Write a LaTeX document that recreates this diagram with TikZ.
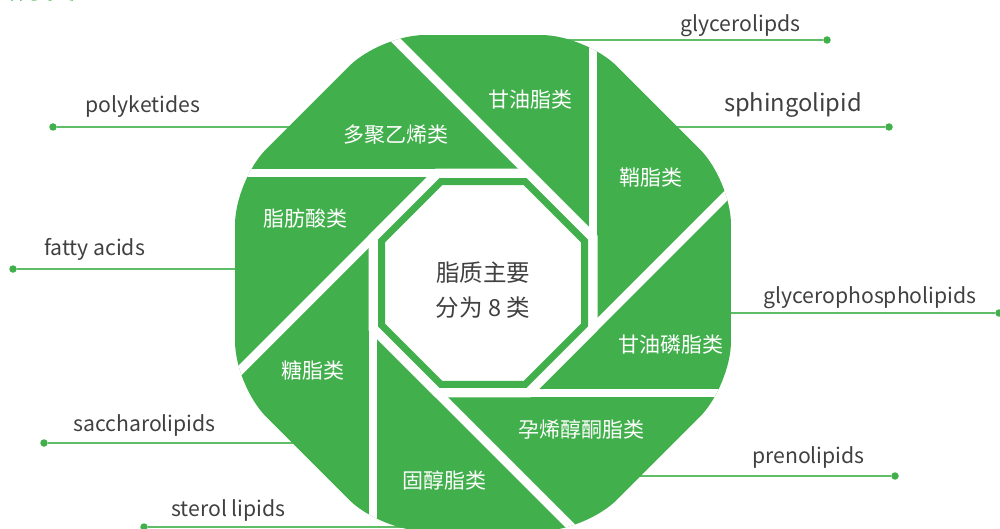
\documentclass[tikz,border=0pt]{standalone}
\usepackage{fontspec}
\setmainfont{Noto Sans CJK SC}
\definecolor{lg}{RGB}{65,175,75}
\definecolor{lgl}{RGB}{95,188,103}
\definecolor{tg}{RGB}{64,64,64}
\def\octpath#1{(22.5:#1) -- (67.5:#1) -- (112.5:#1) -- (157.5:#1) -- (202.5:#1) -- (247.5:#1) -- (292.5:#1) -- (337.5:#1) -- cycle}
\begin{document}
\begin{tikzpicture}[x=1pt,y=-1pt,
  lbl/.style={font=\fontsize{21.2}{25}\selectfont, text=tg, inner sep=0pt, anchor=base},
  lblbig/.style={lbl, font=\fontsize{23.7}{28}\selectfont},
  seg/.style={font=\fontsize{21}{25}\selectfont, text=white, inner sep=0pt},
  dot/.style={circle, fill=lg, minimum size=7.5pt, inner sep=0pt},
  conn/.style={draw=lgl, line width=1.6pt},
  gapline/.style={draw=white, line width=8.8pt},
  ctr/.style={shift={(483,283)}}]
\useasboundingbox (0,0) rectangle (1000,529);
\clip (0,0) rectangle (1000,529);
% partial title at the top left
\node[font=\bfseries\fontsize{30}{34}\selectfont, text=lg, anchor=base east, inner sep=0pt] (title) at (77,-1.5) {脂质分类};
% connectors (drawn behind the shape)
\node[dot] (d1) at (827,40) {};   \coordinate (e1) at (560,40);
\node[dot] (d2) at (889,127) {};  \coordinate (e2) at (660,127);
\node[dot] (d3) at (999,313) {};  \coordinate (e3) at (720,313);
\node[dot] (d4) at (895,476) {};  \coordinate (e4) at (630,476);
\node[dot] (d5) at (53,127) {};   \coordinate (e5) at (300,127);
\node[dot] (d6) at (13,269) {};   \coordinate (e6) at (250,269);
\node[dot] (d7) at (44,443) {};   \coordinate (e7) at (300,443);
\node[dot] (d8) at (144,527) {};  \coordinate (e8) at (430,527);
\foreach \i in {1,...,8} { \draw[conn] (e\i) -- (d\i); }
\node[lbl] (l1) at (740.5,32) {glycerolipds};
\node[lblbig] (l2) at (793,112) {sphingolipid};
\node[lbl] (l3) at (870,303) {glycerophospholipids};
\node[lbl] (l4) at (808.5,463) {prenolipids};
\node[lbl] (l5) at (143,113) {polyketides};
\node[lbl] (l6) at (94.5,255) {fatty acids};
\node[lbl] (l7) at (144.5,431) {saccharolipids};
\node[lbl] (l8) at (228.5,516) {sterol lipids};
% big rounded octagon
\fill[lg, ctr, rounded corners=44pt] \octpath{268.4};
\begin{scope}
  \clip[ctr, rounded corners=44pt] \octpath{268.4};
  \foreach \k in {0,...,7} {
    \draw[gapline, ctr] ({-67.5+45*\k}:119.06) -- ++({-180+45*\k}:420);
  }
\end{scope}
% central octagon
\fill[white, ctr] \octpath{123.93};
\draw[lg, line width=7pt, fill=white, ctr] \octpath{109.86};
\node[font=\fontsize{23.5}{35}\selectfont, text=tg, align=center, inner sep=0pt] (center) at (483,290) {脂质主要\\分为 8 类};
% segment labels
\node[seg] (s1) at (396,135) {多聚乙烯类};
\node[seg] (s2) at (530,100) {甘油脂类};
\node[seg] (s3) at (651,178) {鞘脂类};
\node[seg] (s4) at (671,345) {甘油磷脂类};
\node[seg] (s5) at (581,430) {孕烯醇酮脂类};
\node[seg] (s6) at (444,480) {固醇脂类};
\node[seg] (s7) at (313,370) {糖脂类};
\node[seg] (s8) at (305,219) {脂肪酸类};
\end{tikzpicture}
\end{document}
